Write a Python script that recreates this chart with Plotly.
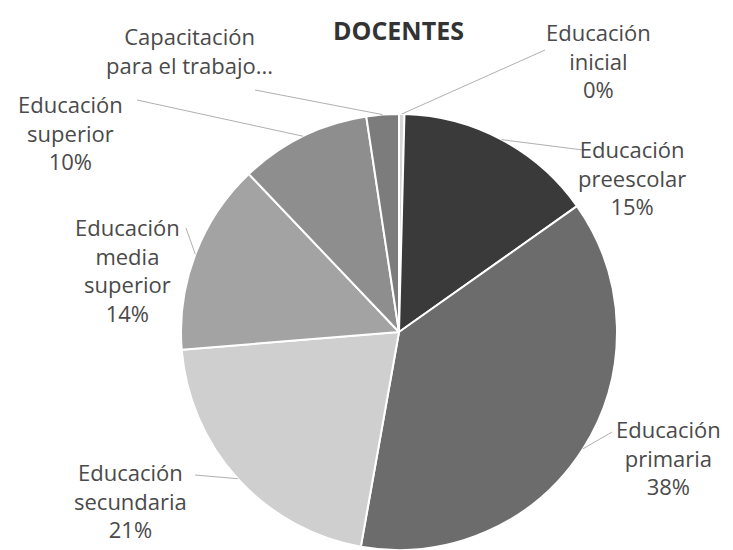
import math
import plotly.graph_objects as go

# slices, clockwise from 12 o'clock
labels = ["Educación inicial", "Educación preescolar", "Educación primaria",
          "Educación secundaria", "Educación media superior",
          "Educación superior", "Capacitación para el trabajo"]
values = [0.4, 14.8, 37.6, 20.9, 14.2, 9.7, 2.4]
label_text = ["Educación<br>inicial", "Educación<br>preescolar", "Educación<br>primaria",
              "Educación<br>secundaria", "Educación<br>media<br>superior",
              "Educación<br>superior", "Capacitación<br>para el trabajo..."]
show_pct = [True, True, True, True, True, True, False]
colors = ["#d6d6d6", "#3a3a3a", "#6c6c6c", "#cfcfcf", "#a3a3a3", "#8e8e8e", "#7c7c7c"]

# the page body has an 8px margin; positions below are window pixels
OFF = 8
W, H = 733 - OFF, 550 - OFF
cx, cy, R = 399, 332, 218


def px(x):
    return (x - OFF) / W


def py(y):
    return 1 - (y - OFF) / H


# label centre and leader tail, in window pixels
label_pos = [(598, 60), (632, 177), (668, 457), (130, 500), (127, 270), (70, 133), (190, 50)]
tail_pos = [(545, 50), (583, 150), (612, 432), (195, 475), (186, 228), (137, 100), (255, 90)]

fig = go.Figure(go.Pie(
    labels=labels, values=values, sort=False, direction="clockwise", rotation=0,
    marker=dict(colors=colors, line=dict(color="white", width=2)),
    textinfo="none", hoverinfo="label+percent", showlegend=False,
    domain=dict(x=[px(cx - R), px(cx + R)], y=[py(cy + R), py(cy - R)]),
))

total = sum(values)
cum = 0
annotations = []
shapes = []
for i, v in enumerate(values):
    mid = (cum + v / 2) / total * 2 * math.pi
    cum += v
    hx = cx + R * math.sin(mid)
    hy = cy - R * math.cos(mid)
    tx, ty = tail_pos[i]
    shapes.append(dict(type="line", xref="paper", yref="paper",
                       x0=px(tx), y0=py(ty), x1=px(hx), y1=py(hy),
                       line=dict(color="#b0b0b0", width=1)))
    txt = label_text[i]
    if show_pct[i]:
        txt += "<br>%d%%" % round(v / total * 100)
    lx, ly = label_pos[i]
    annotations.append(dict(text=txt, x=px(lx), y=py(ly), xref="paper", yref="paper",
                            xanchor="center", yanchor="middle", showarrow=False, align="center",
                            font=dict(family="Open Sans", size=22, color="#4a4a4a")))

annotations.append(dict(text="<b>DOCENTES</b>", x=px(398), y=py(30), xref="paper", yref="paper",
                        xanchor="center", yanchor="middle", showarrow=False,
                        font=dict(family="Open Sans", size=25, color="#333333")))

fig.update_layout(width=W, height=H, margin=dict(l=0, r=0, t=0, b=0),
                  paper_bgcolor="white", plot_bgcolor="white",
                  annotations=annotations, shapes=shapes)

fig.write_html("out.html")
